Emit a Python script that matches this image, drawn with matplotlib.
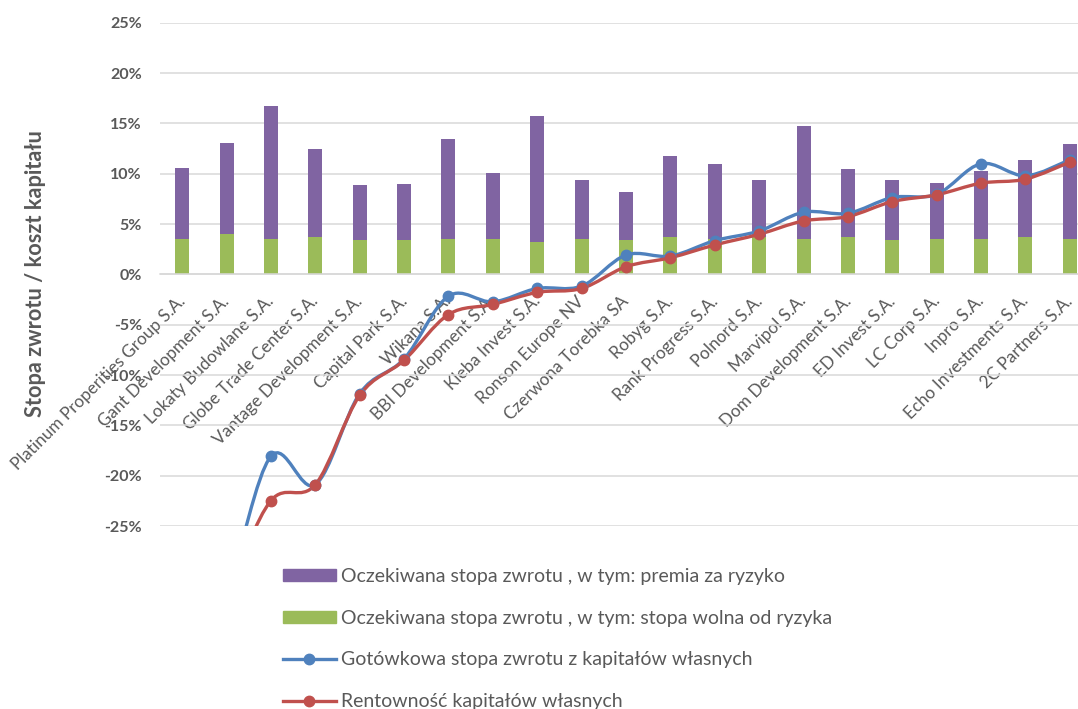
"""
Oczekiwana stopa zwrotu vs. gotowkowa stopa zwrotu i rentownosc kapitalow wlasnych
(spolki deweloperskie).
"""

import numpy as np
import matplotlib
matplotlib.use("Agg")
import matplotlib.pyplot as plt
from matplotlib.path import Path
from matplotlib.patches import PathPatch, Patch
from matplotlib.lines import Line2D
from matplotlib.ticker import FuncFormatter
from matplotlib.transforms import ScaledTranslation

companies = ["Platinum Properities Group S.A.", "Gant Development S.A.",
             "Lokaty Budowlane S.A.", "Globe Trade Center S.A.",
             "Vantage Development S.A.", "Capital Park S.A.", "Wikana S.A.",
             "BBI Development S.A.", "Kleba Invest S.A.", "Ronson Europe NV",
             "Czerwona Torebka SA", "Robyg S.A.", "Rank Progress S.A.",
             "Polnord S.A.", "Marvipol S.A.", "Dom Development S.A.",
             "ED Invest S.A.", "LC Corp S.A.", "Inpro S.A.",
             "Echo Investments S.A.", "2C Partners S.A."]

# values in %
risk_free = [3.55, 4.01, 3.55, 3.68, 3.45, 3.45, 3.55, 3.55, 3.19, 3.55, 3.45,
             3.68, 3.55, 3.68, 3.55, 3.68, 3.45, 3.55, 3.55, 3.68, 3.55]
risk_premium = [7.01, 8.99, 13.15, 8.80, 5.38, 5.55, 9.85, 6.51, 12.51, 5.78, 4.72,
                8.10, 7.44, 5.65, 11.22, 6.78, 5.88, 5.51, 6.67, 7.67, 9.40]
cash_return = [-40.0, -31.5, -18.07, -20.89, -11.85, -8.40, -2.16, -2.73, -1.40,
               -1.17, 1.92, 1.82, 3.35, 4.31, 6.17, 6.07, 7.63, 7.95, 10.99,
               9.79, 11.38]
roe = [-38.0, -31.5, -22.48, -20.89, -12.02, -8.54, -3.99, -2.99, -1.79, -1.40,
       0.76, 1.65, 2.92, 3.98, 5.31, 5.74, 7.23, 7.90, 9.06, 9.46, 11.15]

PURPLE = "#8064A2"
GREEN = "#9BBB59"
BLUE = "#4F81BD"
RED = "#C0504D"
GREY = "#595959"

plt.rcParams["font.family"] = ["Lato", "DejaVu Sans"]


def smooth_path(x, y):
    # Excel-like smoothed line: Bezier segments with Catmull-Rom tangents
    n = len(x)
    verts = [(x[0], y[0])]
    codes = [Path.MOVETO]
    for i in range(n - 1):
        a = max(i - 1, 0)
        d = min(i + 2, n - 1)
        c1 = (x[i] + (x[i + 1] - x[a]) / 6, y[i] + (y[i + 1] - y[a]) / 6)
        c2 = (x[i + 1] - (x[d] - x[i]) / 6, y[i + 1] - (y[d] - y[i]) / 6)
        verts += [c1, c2, (x[i + 1], y[i + 1])]
        codes += [Path.CURVE4] * 3
    return Path(verts, codes)


fig = plt.figure(figsize=(10.78, 7.09), dpi=100)
ax = fig.add_axes([160 / 1078, 183 / 709, 932 / 1078, 503.3 / 709])

x = np.arange(len(companies))
ax.bar(x, risk_free, width=0.315, color=GREEN, zorder=2)
ax.bar(x, risk_premium, width=0.315, bottom=risk_free, color=PURPLE, zorder=2)

for vals, col in [(cash_return, BLUE), (roe, RED)]:
    ax.add_patch(PathPatch(smooth_path(x, vals), fill=False, edgecolor=col,
                           lw=2.4, capstyle="round", joinstyle="round", zorder=3))
    ax.plot(x, vals, "o", color=col, markersize=7.5, zorder=4, clip_on=True)

ax.set_xlim(-0.5, len(companies) - 0.5)
ax.set_ylim(-25, 25)
ax.set_yticks(np.arange(-25, 26, 5))
ax.yaxis.set_major_formatter(FuncFormatter(lambda v, p: "%d%%" % v))
ax.grid(axis="y", color="#D9D9D9", lw=1.1, zorder=0)
ax.set_axisbelow(True)

for s in ["top", "right", "left"]:
    ax.spines[s].set_visible(False)
ax.spines["bottom"].set_position(("data", 0))
ax.spines["bottom"].set_color("#D9D9D9")
ax.spines["bottom"].set_linewidth(1.1)

ax.set_xticks(x)
ax.set_xticklabels(companies, rotation=45, ha="right", va="baseline",
                   rotation_mode="anchor", fontsize=12.3, color=GREY)
ax.tick_params(axis="x", length=0, pad=20)
shift = ScaledTranslation(4 / 100, 0, fig.dpi_scale_trans)
for t in ax.get_xticklabels():
    t.set_transform(t.get_transform() + shift)
ax.tick_params(axis="y", length=0, pad=13, labelsize=11.5, labelcolor=GREY)
for t in ax.get_yticklabels():
    t.set_fontweight("bold")

fig.text(36 / 1078, 1 - 274 / 709, "Stopa zwrotu / koszt kapitału", rotation=90,
         ha="center", va="center", fontsize=15.7, fontweight="bold", color=GREY)

handles = [Patch(color=PURPLE), Patch(color=GREEN),
           Line2D([], [], color=BLUE, lw=2.4, marker="o", markersize=7.5),
           Line2D([], [], color=RED, lw=2.4, marker="o", markersize=7.5)]
labels = ["Oczekiwana stopa zwrotu , w tym: premia za ryzyko",
          "Oczekiwana stopa zwrotu , w tym: stopa wolna od ryzyka",
          "Gotówkowa stopa zwrotu z kapitałów własnych",
          "Rentowność kapitałów własnych"]
leg = fig.legend(handles, labels, loc="upper left",
                 bbox_to_anchor=(283 / 1078, 1 - 568 / 709),
                 frameon=False, fontsize=14, borderpad=0, borderaxespad=0,
                 handlelength=2.7, handleheight=0.6, handletextpad=0.26,
                 labelspacing=1.27)
for t in leg.get_texts():
    t.set_color(GREY)

fig.savefig("out.png", dpi=100)
